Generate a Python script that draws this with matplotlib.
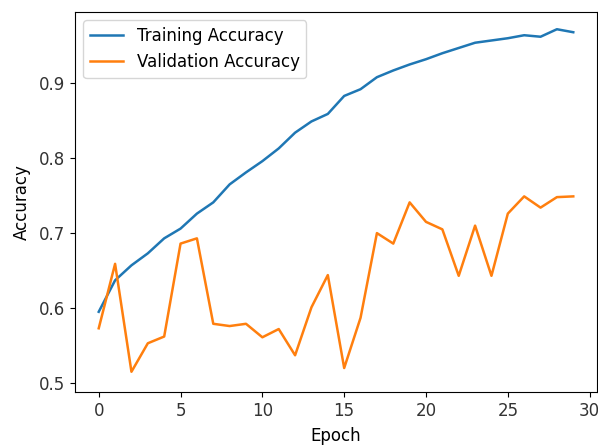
import matplotlib.pyplot as plt
import numpy as np

# Accuracy per epoch
epochs = np.arange(30)
train_acc = [0.595, 0.637, 0.657, 0.673, 0.693, 0.706, 0.726, 0.741, 0.765, 0.781,
             0.796, 0.813, 0.834, 0.849, 0.859, 0.883, 0.892, 0.908, 0.917, 0.925,
             0.932, 0.940, 0.947, 0.954, 0.957, 0.960, 0.964, 0.962, 0.972, 0.968]
val_acc = [0.573, 0.659, 0.515, 0.553, 0.562, 0.686, 0.693, 0.579, 0.576, 0.579,
           0.561, 0.572, 0.537, 0.601, 0.644, 0.520, 0.587, 0.700, 0.686, 0.741,
           0.715, 0.705, 0.643, 0.710, 0.643, 0.726, 0.749, 0.734, 0.748, 0.749]

plt.rcParams['font.size'] = 12

fig = plt.figure(figsize=(5.98, 4.46), dpi=100)
ax = fig.add_axes([75 / 598, 54 / 446, 522 / 598, 380 / 446])

ax.plot(epochs, train_acc, lw=1.8, label='Training Accuracy')
ax.plot(epochs, val_acc, lw=1.8, label='Validation Accuracy')

ax.set_xlabel('Epoch', labelpad=5)
ax.set_ylabel('Accuracy', labelpad=6)
ax.set_xlim(-1.45, 30.45)
ax.set_ylim(0.488, 0.995)
ax.set_xticks([0, 5, 10, 15, 20, 25, 30])
ax.set_yticks([0.5, 0.6, 0.7, 0.8, 0.9])
ax.tick_params(labelcolor='#333333')
ax.legend(loc='upper left')

fig.savefig('out.png', dpi=100, facecolor='white')
